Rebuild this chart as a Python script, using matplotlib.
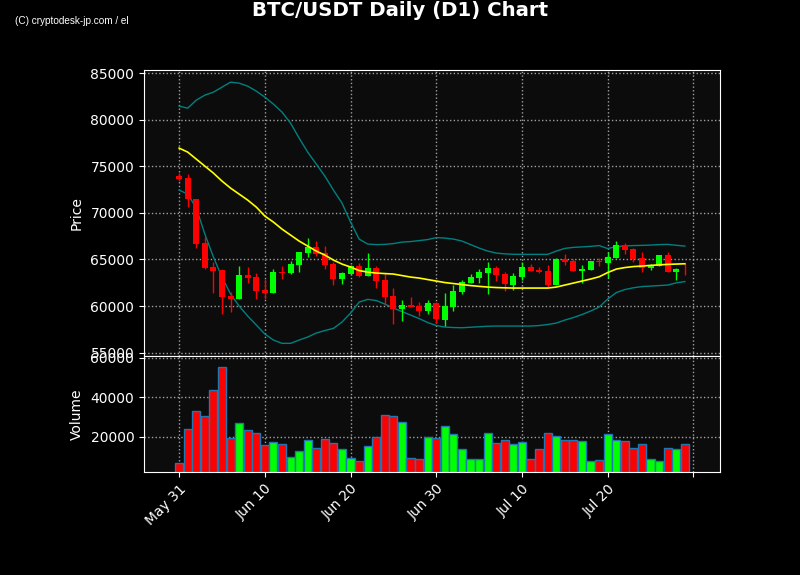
import matplotlib
matplotlib.use("Agg")
import matplotlib.pyplot as plt
import numpy as np
import pandas as pd

# --- DATA ---
dates = pd.date_range("2024-05-31", periods=60, freq="D")

opens = [73980, 73730, 71480, 66730, 64180, 63860, 61100, 60780, 63330, 63110,
         61720, 61430, 63680, 63570, 64430, 65690, 66300, 65720, 64470, 62930,
         63470, 64290, 63250, 64080, 62790, 61070, 59710, 60080, 60000, 59500,
         60290, 58500, 59920, 61540, 62470, 63040, 63540, 64080, 63430, 62300,
         63140, 64150, 63860, 63760, 62250, 65040, 64830, 63760, 63860, 64860,
         64610, 65180, 66540, 66120, 65120, 64110, 64320, 65470, 63680, 64000]
highs = [74240, 74130, 71480, 67370, 64750, 63970, 61470, 64290, 64150, 63510,
         62900, 63940, 64320, 64800, 65760, 67260, 66940, 66400, 64750, 63680,
         64400, 64580, 65650, 64290, 63510, 61900, 60640, 60930, 60460, 60640,
         60460, 61360, 62220, 62790, 63430, 63940, 64690, 64290, 63680, 63510,
         64720, 64500, 64220, 64400, 65150, 65580, 65010, 64370, 64860, 65120,
         65830, 66970, 66760, 66260, 65760, 64470, 65500, 65760, 64050, 64580]
lows = [73440, 70655, 66190, 63970, 61360, 59110, 59390, 60720, 62440, 60720,
        60720, 61430, 62860, 63430, 63620, 65290, 65360, 63940, 62220, 62360,
        63330, 63080, 63250, 61900, 60110, 58040, 58390, 59860, 58930, 59140,
        58140, 57850, 59500, 61290, 62470, 62440, 61290, 62680, 61610, 61720,
        62790, 63790, 63540, 62010, 62250, 64400, 63760, 62500, 63860, 64320,
        63040, 65180, 65580, 64690, 63680, 63830, 64320, 63620, 62790, 63330]
closes = [73660, 71450, 66680, 64110, 63790, 61000, 60780, 63330, 63040, 61640,
          61430, 63650, 63540, 64500, 65760, 66330, 65610, 64430, 62930, 63540,
          64260, 63250, 64040, 62680, 60970, 59710, 60080, 59920, 59500, 60290,
          58570, 60000, 61640, 62580, 63110, 63650, 64080, 63360, 62330, 63220,
          64180, 63790, 63650, 62290, 65040, 64750, 63760, 63970, 64830, 64690,
          65260, 66540, 66010, 65040, 64110, 64320, 65470, 63680, 64000, 63930]
volumes = [6460, 23590, 32820, 30260, 43590, 55380, 19490, 26670, 23080, 21540,
           15900, 17440, 16410, 9740, 12820, 18460, 14360, 18970, 16920, 13850,
           9230, 7690, 15380, 20000, 30770, 30260, 27180, 9230, 8720, 20000,
           19490, 25130, 21030, 13850, 8720, 8720, 21540, 16920, 18460, 16410,
           17440, 8720, 13850, 21540, 20510, 18460, 18460, 17950, 7690, 8210,
           21030, 18460, 17950, 14360, 16410, 8720, 7690, 14360, 13850, 16410]
ma20 = [76953, 76523, 75772, 75021, 74270, 73412, 72660, 72017, 71373, 70622,
        69656, 69012, 68261, 67617, 66974, 66437, 65901, 65471, 64935, 64506,
        64184, 63808, 63647, 63540, 63486, 63433, 63272, 63111, 63004, 62843,
        62682, 62521, 62414, 62307, 62199, 62113, 62038, 61985, 61953, 61930,
        61930, 61930, 61930, 61930, 62038, 62253, 62467, 62682, 62896, 63143,
        63594, 63969, 64130, 64237, 64291, 64366, 64420, 64473, 64506, 64538]
bb_upper = [81459, 81244, 82103, 82639, 82961, 83498, 84034, 83927, 83605, 83069,
            82425, 81674, 80815, 79635, 78025, 76523, 75236, 73948, 72446, 71051,
            69012, 67188, 66652, 66598, 66620, 66705, 66866, 66920, 67027, 67134,
            67349, 67295, 67188, 66974, 66598, 66222, 65901, 65686, 65600, 65557,
            65547, 65547, 65547, 65547, 65901, 66190, 66297, 66351, 66404, 66491,
            66169, 66383, 66458, 66491, 66512, 66544, 66598, 66620, 66523, 66437]
bb_lower = [72446, 72017, 70514, 67725, 65257, 63111, 61287, 59999, 58926, 57960,
            56995, 56351, 55997, 55997, 56351, 56673, 57102, 57370, 57606, 58282,
            59248, 60428, 60718, 60589, 60214, 59784, 59409, 59033, 58658, 58229,
            57907, 57746, 57692, 57671, 57725, 57778, 57832, 57853, 57853, 57853,
            57853, 57853, 57907, 58015, 58175, 58497, 58765, 59087, 59463, 59892,
            60750, 61448, 61770, 61962, 62091, 62145, 62198, 62252, 62488, 62628]

UP_COLOR = "#00ff00"
DOWN_COLOR = "#ff0000"
BG = "#0c0c0c"

# --- FIGURE ---
fig = plt.figure(figsize=(8, 5.75), dpi=100, facecolor="black")
ax = fig.add_axes([0.18, 0.381, 0.72, 0.497], facecolor=BG)
axv = fig.add_axes([0.18, 0.179, 0.72, 0.202], facecolor=BG, sharex=ax)

x = np.arange(len(dates))
o = np.array(opens)
c = np.array(closes)
colors = [UP_COLOR if cc >= oo else DOWN_COLOR for oo, cc in zip(o, c)]

# candles
ax.vlines(x, lows, highs, colors=colors, linewidth=1, zorder=3)
body_bottom = np.minimum(o, c)
body_height = np.maximum(np.abs(c - o), 60)
ax.bar(x, body_height, bottom=body_bottom, width=0.7, color=colors, zorder=4)

# moving average and bollinger bands
ax.plot(x, ma20, color="#ffff00", lw=1.2, zorder=5)
ax.plot(x, bb_upper, color="#008080", lw=1, zorder=2)
ax.plot(x, bb_lower, color="#008080", lw=1, zorder=2)

# volume
axv.bar(x, volumes, width=0.95, color=colors, edgecolor="#1f77b4", linewidth=1)
axv.set_ylim(0.3 * min(volumes), 1.1 * max(volumes))

# --- AXES STYLING ---
ax.set_xlim(-4.1, 63.1)
ax.set_ylim(54646, 85322)
tick_pos = list(range(0, 61, 10))
tick_lab = [dates[i].strftime("%b %d") if i < len(dates) else "" for i in tick_pos]
axv.set_xticks(tick_pos)
axv.set_xticklabels(tick_lab, rotation=45, ha="right", rotation_mode="anchor")
ax.tick_params(axis="x", labelbottom=False, bottom=False)

for a in (ax, axv):
    a.grid(True, linestyle=":", color="#a0a0a0", linewidth=1)
    a.set_axisbelow(True)
    a.tick_params(colors="white", labelsize=10)
    for s in a.spines.values():
        s.set_color("white")

ax.set_ylabel("Price", color="white", fontsize=10)
axv.set_ylabel("Volume", color="white", fontsize=10)
ax.yaxis.set_label_coords(-0.104, 0.5)
axv.yaxis.set_label_coords(-0.104, 0.5)

fig.suptitle("BTC/USDT Daily (D1) Chart", color="white", fontsize=14.2,
             fontweight="bold", y=0.981, va="center")
fig.text(0.019, 0.9635, "(C) cryptodesk-jp.com / el", color="white",
         fontsize=7.2, family="Liberation Sans", va="center")

fig.savefig("out.png", dpi=100, facecolor="black")
